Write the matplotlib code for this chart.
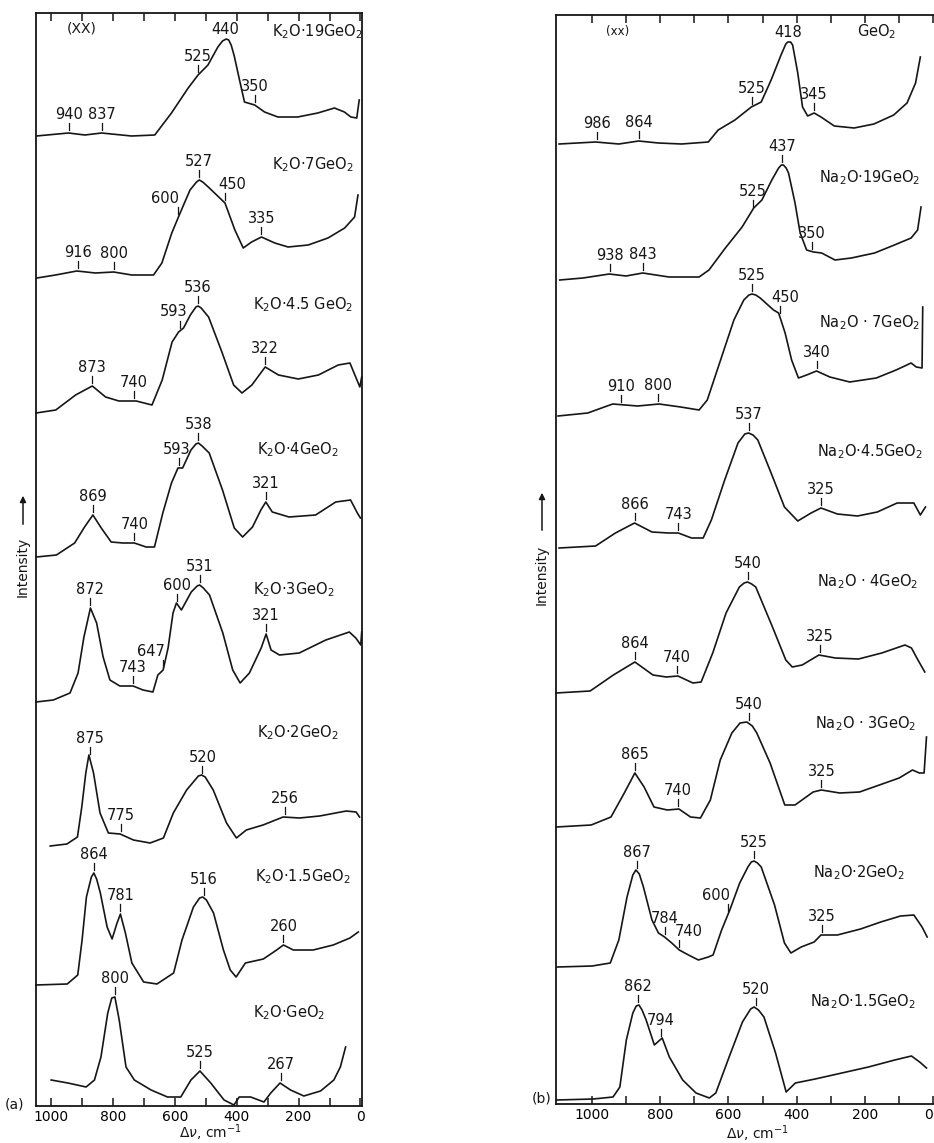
"""
Raman spectra of K2O-GeO2 (a) and Na2O-GeO2 (b) glasses, stacked traces
"""
import matplotlib.pyplot as plt
import numpy as np

plt.rcParams['font.family'] = ['DejaVu Sans']
plt.rcParams['mathtext.fontset'] = 'dejavusans'

INK = '#161616'

# ---------------- panel (a): K2O . xGeO2 ----------------
# each trace: (wavenumber cm-1, intensity above its own baseline, arb. units)
k19 = [(1048, 0), (944, 3), (891, 1), (837, 3), (740, 0), (665, 1), (611, 23), (557, 48),
       (525, 61), (493, 71), (461, 89), (446, 95), (434, 97), (426, 96), (418, 91), (408, 80),
       (396, 63), (375, 34), (342, 31),
       (310, 24), (267, 19), (203, 19), (138, 23), (84, 28), (52, 24), (31, 19), (12, 18), (4, 36)]
k7 = [(1046, 0), (986, 3), (917, 7), (857, 5), (798, 6), (739, 3), (669, 3), (642, 15),
      (610, 45), (583, 65), (551, 88), (530, 96), (521, 98), (510, 96), (492, 91), (438, 75),
      (406, 48), (379, 30),
      (352, 36), (320, 41), (277, 35), (234, 31), (169, 33), (105, 40), (51, 50), (19, 61), (8, 83)]
k45 = [(1049, 0), (985, 3), (921, 18), (867, 27), (824, 16), (781, 12), (725, 12), (674, 8),
       (641, 33), (609, 71), (588, 81), (572, 85), (550, 98), (532, 106), (525, 107), (515, 105),
       (491, 96), (448, 61),
       (410, 28), (383, 20), (351, 28), (308, 46), (265, 38), (201, 34), (136, 38), (72, 48),
       (34, 50), (18, 38), (2, 26), (-4, 36)]
k4 = [(1048, 0), (983, 2), (924, 14), (892, 30), (865, 42), (838, 29), (806, 15), (768, 14),
      (731, 14), (693, 10), (666, 10), (639, 44), (611, 74), (590, 89), (575, 89), (548, 107),
      (532, 113), (524, 114), (512, 111), (489, 104), (446, 67), (408, 29), (381, 20), (349, 30),
      (322, 47), (306, 55),
      (285, 45), (231, 40), (145, 42), (80, 55), (32, 57), (10, 44), (0, 39)]
k3 = [(1049, 0), (993, 2), (939, 9), (913, 29), (894, 65), (873, 94), (853, 79), (832, 45),
      (810, 22), (778, 16), (735, 16), (703, 12), (671, 10), (655, 27), (638, 32), (622, 54),
      (606, 89), (595, 99), (579, 92), (547, 110), (528, 116), (520, 117), (508, 114), (488, 107),
      (445, 69), (413, 32),
      (389, 19), (359, 29), (321, 54), (305, 68), (289, 52), (262, 47), (198, 49), (112, 62),
      (36, 70), (15, 64), (-1, 57), (-4, 70)]
k2 = [(1003, 0), (949, 2), (915, 9), (901, 39), (888, 73), (878, 91), (863, 73), (842, 33),
      (815, 13), (777, 12), (734, 6), (680, 3), (637, 8), (605, 33), (562, 56), (524, 70),
      (514, 71), (502, 69),
      (476, 56), (433, 23), (401, 8), (369, 16), (315, 21), (250, 29), (197, 28), (132, 30),
      (46, 35), (14, 34), (3, 29)]
k15 = [(1049, 0), (948, 1), (914, 10), (900, 45), (886, 88), (870, 108), (862, 112), (853, 106),
       (841, 92), (819, 58),
       (803, 46), (787, 62), (776, 71), (760, 52), (739, 22), (701, 3), (658, 1), (604, 12),
       (577, 45), (540, 78), (520, 87), (510, 88), (498, 85), (475, 72), (443, 35), (421, 15),
       (402, 8), (372, 22),
       (314, 26), (271, 35), (249, 40), (217, 35), (153, 35), (88, 40), (34, 47), (7, 53)]
k1 = [(1000, 0), (946, -3), (887, -7), (860, 0), (839, 23), (817, 67), (804, 82), (794, 83),
      (780, 60), (758, 13), (731, 0), (677, -10), (624, -17), (581, -17), (548, 0), (519, 9),
      (484, -3), (441, -20), (409, -25), (392, -17), (355, -17), (312, -22), (290, -13),
      (260, -3), (226, -10), (183, -16), (129, -11), (86, 0), (65, 13), (48, 33)]

k_traces = [k19, k7, k45, k4, k3, k2, k15, k1]
k_baselines = [970, 828, 693, 549, 404, 260, 121, 26]
k_names = ['K$_2$O·19GeO$_2$', 'K$_2$O·7GeO$_2$', 'K$_2$O·4.5 GeO$_2$', 'K$_2$O·4GeO$_2$',
           'K$_2$O·3GeO$_2$', 'K$_2$O·2GeO$_2$', 'K$_2$O·1.5GeO$_2$', 'K$_2$O·GeO$_2$']
# peak marks: (label, position on the trace)
k_peaks = [
    [('940', 942), ('837', 835), ('525', 525), ('440', 436), ('350', 342)],
    [('916', 914), ('800', 798), ('600', 589), ('527', 521), ('450', 438), ('335', 320)],
    [('873', 869), ('740', 733), ('593', 582), ('536', 525), ('322', 308)],
    [('869', 865), ('740', 731), ('593', 586), ('538', 524), ('321', 305)],
    [('872', 873), ('743', 737), ('647', 638), ('600', 592), ('531', 520), ('321', 305)],
    [('875', 876), ('775', 775), ('520', 511), ('256', 243)],
    [('864', 862), ('781', 776), ('516', 507), ('260', 249)],
    [('800', 794), ('525', 518), ('267', 258)],
]

# ---------------- panel (b): Na2O . xGeO2 ----------------
g1 = [(1096, 0), (989, 2), (921, 0), (863, 3), (805, 1), (737, 0), (659, 2), (630, 14), (581, 24),
      (533, 37), (504, 42), (475, 64), (446, 89), (432, 100), (426, 102), (418, 102), (412, 99),
      (397, 71), (383, 37),
      (368, 28), (349, 31), (329, 27), (290, 18), (232, 16), (174, 20), (116, 29), (77, 41),
      (52, 61), (38, 87)]
n19 = [(1094, 0), (1026, 2), (949, 6), (900, 4), (851, 7), (774, 3), (686, 3), (657, 10), (609, 32),
       (560, 53), (526, 72), (502, 80), (473, 100), (453, 112), (445, 115), (439, 115), (431, 112),
       (424, 107), (405, 77),
       (390, 47), (371, 30), (351, 28), (327, 27), (288, 20), (240, 22), (172, 27), (114, 35),
       (65, 42), (46, 50), (36, 73)]
n7 = [(1099, 0), (1012, 3), (939, 12), (866, 10), (803, 12), (740, 9), (686, 6), (662, 16), (623, 56),
      (584, 96), (555, 116), (540, 121), (531, 122), (520, 121), (507, 118), (468, 106), (453, 103),
      (434, 83), (415, 56),
      (395, 38), (371, 41), (342, 45), (303, 39), (245, 34), (167, 38), (109, 46), (65, 53),
      (50, 49), (33, 48), (31, 109)]
n45 = [(1096, 0), (989, 2), (931, 15), (875, 25), (824, 16), (776, 15), (747, 15), (708, 10), (674, 10),
       (650, 28), (611, 68), (572, 105), (552, 114), (541, 115), (528, 113), (514, 108), (475, 75),
       (436, 41), (397, 27),
       (358, 35), (329, 40), (281, 34), (222, 32), (164, 36), (106, 45), (57, 45), (38, 33), (23, 41)]
n4 = [(1105, 0), (1005, 2), (937, 18), (874, 31), (821, 18), (782, 16), (748, 17), (704, 10), (680, 11),
      (646, 40), (607, 80), (568, 106), (554, 110), (544, 111), (532, 109), (520, 106), (471, 66),
      (432, 33), (413, 26),
      (384, 28), (335, 38), (287, 35), (219, 34), (151, 40), (83, 48), (64, 45), (45, 33), (25, 21)]
n3 = [(1104, 0), (1002, 2), (944, 10), (905, 34), (874, 54), (847, 40), (818, 20), (779, 17), (745, 18),
      (711, 10), (682, 9), (653, 27), (624, 67), (590, 94), (566, 104), (546, 105), (530, 101),
      (517, 94),
      (478, 64), (435, 22), (405, 22), (352, 35), (328, 37), (274, 34), (216, 35), (158, 42),
      (100, 49), (61, 57), (41, 54), (27, 54), (20, 90)]
n2 = [(1101, 0), (999, 1), (946, 4), (921, 27), (897, 70), (880, 92), (871, 97), (861, 93),
      (849, 80), (824, 47), (805, 34),
      (787, 30), (766, 24), (744, 17), (717, 12), (688, 7), (659, 10), (645, 12), (620, 37), (596, 57),
      (567, 84), (543, 100), (533, 105), (525, 106), (515, 104), (504, 100), (465, 62), (436, 24),
      (417, 14), (387, 20),
      (349, 25), (329, 32), (281, 32), (213, 38), (154, 45), (96, 51), (57, 52), (33, 40), (18, 30)]
n15 = [(1103, 0), (996, 1), (938, 3), (918, 13), (899, 60), (880, 87), (870, 94), (862, 95),
       (853, 90), (841, 80), (817, 55),
       (794, 62), (773, 43), (734, 20), (695, 7), (656, 2), (637, 7), (598, 43), (559, 78),
       (535, 91), (525, 93), (512, 90),
       (496, 83), (462, 47), (431, 8), (404, 17), (346, 21), (268, 27), (190, 33), (113, 40),
       (64, 44), (40, 38), (20, 32)]

n_traces = [g1, n19, n7, n45, n4, n3, n2, n15]
n_baselines = [960, 824, 688, 556, 411, 277, 137, 4]
n_names = ['GeO$_2$', 'Na$_2$O·19GeO$_2$', 'Na$_2$O · 7GeO$_2$', 'Na$_2$O·4.5GeO$_2$',
           'Na$_2$O · 4GeO$_2$', 'Na$_2$O · 3GeO$_2$', 'Na$_2$O·2GeO$_2$', 'Na$_2$O·1.5GeO$_2$']
n_peaks = [
    [('986', 986), ('864', 863), ('525', 531), ('418', 426), ('345', 350)],
    [('938', 946), ('843', 850), ('525', 529), ('437', 442), ('350', 356)],
    [('910', 915), ('800', 805), ('525', 531), ('450', 450), ('340', 342)],
    [('866', 873), ('743', 747), ('537', 541), ('325', 329)],
    [('864', 874), ('740', 750), ('540', 544), ('325', 331)],
    [('865', 874), ('740', 747), ('540', 541), ('325', 328)],
    [('867', 868), ('784', 787), ('740', 744), ('600', 601), ('525', 525), ('325', 327)],
    [('862', 865), ('794', 797), ('520', 520)],
]

# text nudges (pixels, +right) and marks drawn without a tick
NUDGE = {('a', 1, '600'): -13, ('a', 1, '450'): 7, ('a', 2, '593'): -7, ('a', 3, '593'): -3,
         ('a', 4, '647'): -12, ('b', 2, '450'): 6, ('b', 6, '740'): 9, ('b', 6, '600'): -12}
NO_TICK = {('a', 0, '440'), ('b', 0, '418')}

# name positions in figure pixels (left edge, centre y)
K_NAME_XY = [(272, 32), (272, 165), (253, 305), (257, 450), (253, 590), (257, 733), (255, 877), (253, 1013)]
N_NAME_XY = [(857, 32), (819, 178), (819, 323), (817, 452), (817, 582), (815, 724), (813, 873), (810, 1002)]

W, H = 934, 1143
fig = plt.figure(figsize=(W / 100, H / 100), dpi=100, facecolor='white')


def px(x, y):
    return x / W, 1 - y / H


def setup_axis(ax, xlim, ylim, right_spine=True):
    ax.set_xlim(*xlim)
    ax.set_ylim(*ylim)
    ax.set_xticks([1000, 800, 600, 400, 200, 0])
    ax.set_xticks(np.arange(100, 1001, 200), minor=True)
    ax.set_yticks([])
    ax.tick_params(axis='x', which='both', direction='in', length=6, width=1.1,
                   top=True, bottom=True, labeltop=False, labelsize=10, pad=3, color=INK)
    for s in ax.spines.values():
        s.set_linewidth(1.3)
        s.set_color(INK)
    ax.spines['right'].set_visible(right_spine)
    ax.set_facecolor('none')


def draw_traces(ax, key, traces, baselines, peaks, ppu):
    for idx, (trace, base, pk) in enumerate(zip(traces, baselines, peaks)):
        w = np.array([p[0] for p in trace], dtype=float)
        y = np.array([p[1] for p in trace], dtype=float) + base
        ax.plot(w, y, color=INK, lw=1.2, solid_joinstyle='round', clip_on=False)
        order = np.argsort(w)
        for text, pos in pk:
            h = np.interp(pos, w[order], y[order])
            dx = NUDGE.get((key, idx, text), 0) / ppu
            if (key, idx, text) in NO_TICK:
                ax.text(pos, h + 2, text, ha='center', va='bottom', fontsize=10.5, color=INK)
                continue
            ax.plot([pos, pos], [h + 3, h + 10], color=INK, lw=0.9)
            ax.text(pos - dx, h + 11, text, ha='center', va='bottom', fontsize=10.5, color=INK)


# panel (a)
ax_a = fig.add_axes([36 / W, (H - 1106) / H, 326 / W, 1093 / H])
setup_axis(ax_a, (1049, -5), (0, 1093))
draw_traces(ax_a, 'a', k_traces, k_baselines, k_peaks, 326 / 1054)

# panel (b)
ax_b = fig.add_axes([556 / W, (H - 1104) / H, 378 / W, 1089 / H])
setup_axis(ax_b, (1105, -2), (0, 1089), right_spine=False)
draw_traces(ax_b, 'b', n_traces, n_baselines, n_peaks, 378 / 1107)
# the "0" label sits on the right edge of the page: keep it inside
ax_b.xaxis.get_major_ticks()[-1].label1.set_horizontalalignment('right')

for name, (x, y) in zip(k_names, K_NAME_XY):
    fig.text(*px(x, y), name, ha='left', va='center', fontsize=10.5, color=INK)
for name, (x, y) in zip(n_names, N_NAME_XY):
    fig.text(*px(x, y), name, ha='left', va='center', fontsize=10.5, color=INK)

fig.text(*px(82, 28), '(XX)', ha='center', va='center', fontsize=10, color=INK)
fig.text(*px(618, 32), '(xx)', ha='center', va='center', fontsize=8.5, color=INK)
fig.text(*px(15, 1104), '(a)', ha='center', va='center', fontsize=10, color=INK)
fig.text(*px(542, 1099), '(b)', ha='center', va='center', fontsize=10, color=INK)

# x axis titles
fig.text(*px(210, 1133), r'$\Delta\nu$, cm$^{-1}$', ha='center', va='center', fontsize=10, color=INK)
fig.text(*px(757, 1134), r'$\Delta\nu$, cm$^{-1}$', ha='center', va='center', fontsize=10, color=INK)

# "Intensity ->" labels
for (x, ytxt, y0, y1) in [(23, 567, 527, 493), (542, 575, 533, 490)]:
    fig.text(*px(x, ytxt), 'Intensity', rotation=90, ha='center', va='center', fontsize=10, color=INK)
    ax_a.annotate('', xy=px(x, y1), xytext=px(x, y0), xycoords='figure fraction',
                  textcoords='figure fraction', annotation_clip=False,
                  arrowprops=dict(arrowstyle='-|>', color=INK, lw=1.1, mutation_scale=9))

fig.savefig('out.png', dpi=100, facecolor='white')
